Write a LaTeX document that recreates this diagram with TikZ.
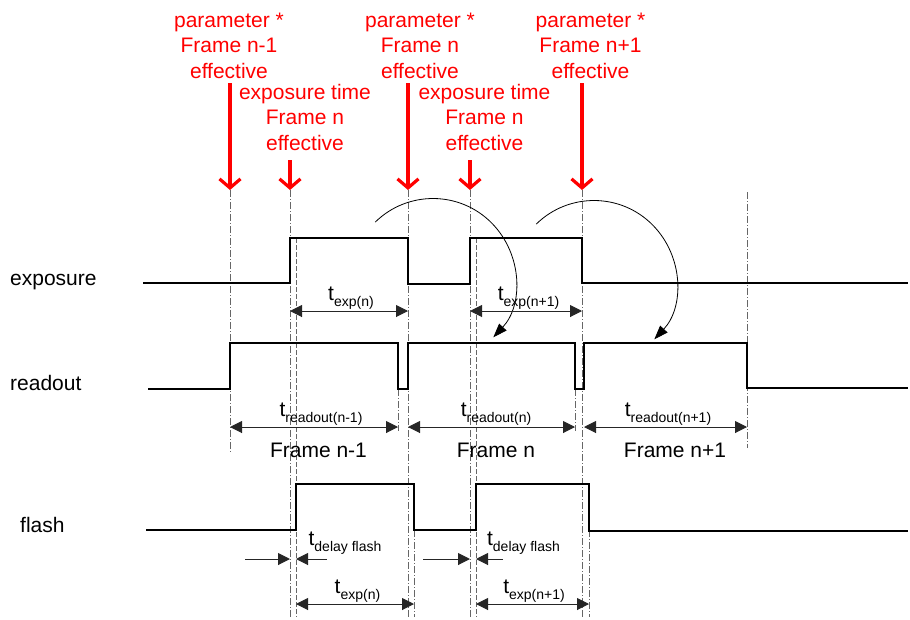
\documentclass[tikz,border=0pt]{standalone}
\usepackage{fontspec}
\setmainfont{Liberation Sans}
\usetikzlibrary{arrows.meta}
\newcommand{\tsb}[1]{t\raisebox{-6.5pt}{\fontsize{14}{14}\selectfont #1}}
\begin{document}
\begin{tikzpicture}[x=1pt,y=1pt,
  lbl/.style={font=\fontsize{21}{25}\selectfont, inner sep=0, anchor=base},
  redtxt/.style={font=\fontsize{21}{25.5}\selectfont, text=red, align=center, inner sep=0, anchor=north},
  redarr/.style={draw=red, line width=3.2pt, -{Straight Barb[length=9pt,width=21pt]}},
  wave/.style={draw=black, line width=2pt, line join=miter},
  dd/.style={draw=black!60, line width=0.9pt, dash pattern=on 7pt off 2pt on 1pt off 2pt},
  ds/.style={draw=black!60, line width=0.9pt, dash pattern=on 5pt off 2pt},
  dim/.style={draw=black!85, line width=1pt, {Triangle[length=12pt,width=12pt]}-{Triangle[length=12pt,width=12pt]}},
  onearr/.style={draw=black!85, line width=1pt, -{Triangle[length=12pt,width=12pt]}},
  arcarr/.style={draw=black, line width=0.8pt, -{Triangle[length=14pt,width=10pt]}}
]
\useasboundingbox (0,0) rectangle (910,-619);

% red annotations
\node[redtxt] (p1) at (229,-12.5) {parameter *\\Frame n-1\\effective};
\node[redtxt] (e1) at (305,-84) {exposure time\\Frame n\\effective};
\node[redtxt] (p2) at (420,-12.5) {parameter *\\Frame n\\effective};
\node[redtxt] (e2) at (484.5,-84) {exposure time\\Frame n\\effective};
\node[redtxt] (p3) at (590.5,-12.5) {parameter *\\Frame n+1\\effective};

\coordinate (r1a) at (230,-83);  \coordinate (r1b) at (230,-190);
\coordinate (r2a) at (290,-160); \coordinate (r2b) at (290,-190);
\coordinate (r3a) at (408,-83);  \coordinate (r3b) at (408,-190);
\coordinate (r4a) at (470,-160); \coordinate (r4b) at (470,-190);
\coordinate (r5a) at (582,-83);  \coordinate (r5b) at (582,-190);

% guide lines
\draw[dd] (r1b) -- (230,-452);
\draw[dd] (r2b) -- (290,-617);
\draw[dd] (r3b) -- (408,-617);
\draw[dd] (r4b) -- (470,-617);
\draw[dd] (r5b) -- (582,-617);
\draw[dd] (747,-192) -- (747,-448);
\draw[ds] (296,-238) -- (296,-617);
\draw[ds] (476,-238) -- (476,-617);
\draw[dd] (398,-389) -- (398,-431);
\draw[dd] (575,-389) -- (575,-431);
\draw[dd] (414,-530) -- (414,-617);
\draw[dd] (589,-530) -- (589,-617);

\draw[redarr] (r1a) -- (r1b);
\draw[redarr] (r2a) -- (r2b);
\draw[redarr] (r3a) -- (r3b);
\draw[redarr] (r4a) -- (r4b);
\draw[redarr] (r5a) -- (r5b);

% signal names
\node[lbl, anchor=base west] (sexp) at (10,-285) {exposure};
\node[lbl, anchor=base west] (sread) at (10,-390) {readout};
\node[lbl, anchor=base west] (sflash) at (20,-532) {flash};

% waveforms
\draw[wave] (143,-283) -- (290,-283) -- (290,-237.5) -- (408,-237.5) -- (408,-284) -- (470,-284) -- (470,-238) -- (582,-238) -- (582,-283) -- (908,-283);
\draw[wave] (148,-389) -- (230,-389) -- (230,-343) -- (398,-343) -- (398,-389) -- (408,-389) -- (408,-343) -- (575,-343) -- (575,-389) -- (584,-389) -- (584,-343) -- (747,-343) -- (747,-388) -- (908,-388);
\draw[wave] (146,-530) -- (296,-530) -- (296,-484) -- (414,-484) -- (414,-530) -- (476,-530) -- (476,-484) -- (589,-484) -- (589,-530.5) -- (908,-530.5);

% curved arrows
\coordinate (c1) at (433,-281);
\coordinate (c2) at (594,-283);
\draw[arcarr] ([shift={(134.5:82.5)}]c1) arc[start angle=134.5, end angle=-43, radius=82.5];
\draw[arcarr] ([shift={(134.5:82.5)}]c2) arc[start angle=134.5, end angle=-43, radius=82.5];

% exposure dimensions
\coordinate (xa1) at (290,-311); \coordinate (xb1) at (408,-311);
\coordinate (xa2) at (470,-311); \coordinate (xb2) at (582,-311);
\draw[dim] (xa1) -- (xb1);
\draw[dim] (xa2) -- (xb2);
\node[lbl] (lte1) at (351,-300) {\tsb{exp(n)}};
\node[lbl] (lte2) at (528.5,-300) {\tsb{exp(n+1)}};

% readout dimensions
\coordinate (ra1) at (230,-427); \coordinate (rb1) at (398,-427);
\coordinate (ra2) at (408,-427); \coordinate (rb2) at (575,-427);
\coordinate (ra3) at (584,-427); \coordinate (rb3) at (747,-427);
\draw[dim] (ra1) -- (rb1);
\draw[dim] (ra2) -- (rb2);
\draw[dim] (ra3) -- (rb3);
\node[lbl] (ltr1) at (321,-416) {\tsb{readout(n-1)}};
\node[lbl] (ltr2) at (496,-416) {\tsb{readout(n)}};
\node[lbl] (ltr3) at (668,-416) {\tsb{readout(n+1)}};
\node[lbl] (fr1) at (318.5,-457) {Frame n-1};
\node[lbl] (fr2) at (496,-457) {Frame n};
\node[lbl] (fr3) at (675,-457) {Frame n+1};

% flash delay
\coordinate (d1a) at (245,-559); \coordinate (d1b) at (290,-559);
\coordinate (d1c) at (327,-559); \coordinate (d1d) at (296,-559);
\coordinate (d2a) at (423,-559); \coordinate (d2b) at (470,-559);
\coordinate (d2c) at (503,-559); \coordinate (d2d) at (476,-559);
\draw[onearr] (d1a) -- (d1b);
\draw[onearr] (d1c) -- (d1d);
\draw[onearr] (d2a) -- (d2b);
\draw[onearr] (d2c) -- (d2d);
\node[lbl] (ltd1) at (345,-545) {\tsb{delay flash}};
\node[lbl] (ltd2) at (523.5,-545) {\tsb{delay flash}};

% flash exposure dimensions
\coordinate (fa1) at (296,-604); \coordinate (fb1) at (414,-604);
\coordinate (fa2) at (476,-604); \coordinate (fb2) at (589,-604);
\draw[dim] (fa1) -- (fb1);
\draw[dim] (fa2) -- (fb2);
\node[lbl] (ltf1) at (357.5,-593) {\tsb{exp(n)}};
\node[lbl] (ltf2) at (534,-593) {\tsb{exp(n+1)}};
\end{tikzpicture}
\end{document}
